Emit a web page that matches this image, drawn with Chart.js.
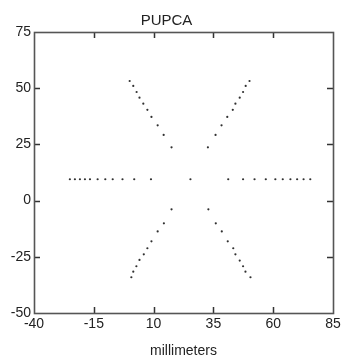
<!DOCTYPE html>
<html>
<head>
<meta charset="utf-8">
<script src="https://cdn.jsdelivr.net/npm/chart.js@4.4.1/dist/chart.umd.min.js"></script>
<style>
html,body{margin:0;padding:0;background:#fff;}
#wrap{width:344px;height:362px;}
</style>
</head>
<body>
<div id="wrap"><canvas id="c" width="344" height="362"></canvas></div>
<script>
// ---- data ----
const chartTitle = 'PUPCA';
const xAxisTitle = 'millimeters';
const xTickValues = [-40, -15, 10, 35, 60, 85];
const yTickValues = [-50, -25, 0, 25, 50, 75];

// horizontal arm, left of centre
const leftArmX  = [-25.0, -22.9, -20.8, -18.7, -16.6, -13.4, -10.2, -7.1, -3.0, 1.9, 8.9];
const leftArmY  = [9.5, 9.5, 9.5, 9.5, 9.5, 9.5, 9.5, 9.5, 9.5, 9.5, 9.5];
// horizontal arm, right of centre (incl. centre dot)
const rightArmX = [25.4, 41.2, 47.4, 52.2, 56.9, 60.9, 64.0, 67.2, 70.0, 72.7, 75.5];
const rightArmY = [9.5, 9.5, 9.5, 9.5, 9.5, 9.5, 9.5, 9.5, 9.5, 9.5, 9.5];
// upper-left arm
const upLeftX  = [0.0, 1.5, 2.9, 4.1, 5.7, 7.4, 9.1, 11.7, 14.2, 17.5];
const upLeftY  = [53.2, 51.0, 48.3, 45.8, 43.1, 40.4, 37.2, 33.5, 29.2, 23.7];
// upper-right arm
const upRightX = [50.1, 48.5, 47.4, 46.0, 44.2, 43.1, 40.8, 38.4, 35.9, 32.7];
const upRightY = [53.2, 51.0, 48.3, 45.8, 43.1, 40.4, 37.2, 33.5, 29.2, 23.7];
// lower-left arm
const lowLeftX = [17.5, 14.3, 11.7, 9.1, 7.4, 5.9, 4.1, 2.8, 1.5, 0.7];
const lowLeftY = [-3.9, -10.1, -13.7, -18.1, -21.2, -23.9, -26.4, -29.2, -31.6, -34.1];
// lower-right arm
const lowRightX = [32.9, 36.0, 38.5, 41.0, 43.3, 44.2, 46.0, 47.4, 48.4, 50.5];
const lowRightY = [-3.9, -10.1, -13.7, -18.1, -21.2, -23.9, -26.7, -29.2, -31.6, -34.1];

const arms = [
  [leftArmX, leftArmY], [rightArmX, rightArmY],
  [upLeftX, upLeftY], [upRightX, upRightY],
  [lowLeftX, lowLeftY], [lowRightX, lowRightY]
];
const points = [];
arms.forEach(([xs, ys]) => xs.forEach((x, i) => points.push({x: x, y: ys[i]})));

// ---- frame with inward ticks, drawn from the chart's own scales ----
const framePlugin = {
  id: 'frame',
  afterDraw(chart) {
    const ctx = chart.ctx;
    const a = chart.chartArea;
    const xs = chart.scales.x, ys = chart.scales.y;
    const tl = 6;
    ctx.save();
    ctx.strokeStyle = '#333';
    ctx.lineWidth = 1.5;
    ctx.beginPath();
    xs.ticks.forEach(t => {
      const px = Math.round(xs.getPixelForValue(t.value)) + 0.5;
      if (t.value === xs.min || t.value === xs.max) return;
      ctx.moveTo(px, a.bottom); ctx.lineTo(px, a.bottom - tl);
      ctx.moveTo(px, a.top); ctx.lineTo(px, a.top + tl);
    });
    ys.ticks.forEach(t => {
      const py = Math.round(ys.getPixelForValue(t.value)) + 0.5;
      if (t.value === ys.min || t.value === ys.max) return;
      ctx.moveTo(a.left, py); ctx.lineTo(a.left + tl, py);
      ctx.moveTo(a.right, py); ctx.lineTo(a.right - tl, py);
    });
    ctx.stroke();
    ctx.strokeStyle = '#555';
    ctx.lineWidth = 1.6;
    ctx.strokeRect(Math.round(a.left) + 0.5, Math.round(a.top) + 0.5,
                   Math.round(a.right - a.left), Math.round(a.bottom - a.top));
    ctx.restore();
  }
};

const FONT = "'Liberation Sans', Arial, sans-serif";

new Chart(document.getElementById('c'), {
  type: 'scatter',
  data: {
    datasets: [{
      data: points,
      pointRadius: 1.1,
      pointBorderWidth: 0,
      pointBackgroundColor: '#303030',
      pointHoverRadius: 1.1
    }]
  },
  options: {
    responsive: false,
    animation: false,
    devicePixelRatio: 1,
    layout: { padding: { left: 0, right: 11, top: 0, bottom: 0 } },
    plugins: {
      legend: { display: false },
      tooltip: { enabled: false },
      title: {
        display: true,
        text: chartTitle,
        color: '#222',
        font: { family: FONT, size: 15, weight: 'normal' },
        padding: { top: 12, bottom: 2 }
      }
    },
    scales: {
      x: {
        type: 'linear',
        min: xTickValues[0],
        max: xTickValues[xTickValues.length - 1],
        afterBuildTicks: s => { s.ticks = xTickValues.map(v => ({ value: v })); },
        afterFit: s => { s.height = 49; },
        grid: { display: false, drawTicks: false },
        border: { display: false },
        ticks: {
          color: '#222',
          font: { family: FONT, size: 14 },
          padding: 3,
          maxRotation: 0,
          autoSkip: false
        },
        title: {
          display: true,
          text: xAxisTitle,
          color: '#222',
          font: { family: FONT, size: 14 },
          padding: { top: 0, bottom: 2 }
        }
      },
      y: {
        type: 'linear',
        min: yTickValues[0],
        max: yTickValues[yTickValues.length - 1],
        afterBuildTicks: s => { s.ticks = yTickValues.map(v => ({ value: v })); },
        afterFit: s => { s.width = 34; },
        grid: { display: false, drawTicks: false },
        border: { display: false },
        ticks: {
          color: '#222',
          font: { family: FONT, size: 14 },
          padding: 3,
          autoSkip: false
        }
      }
    }
  },
  plugins: [framePlugin]
});
</script>
</body>
</html>
